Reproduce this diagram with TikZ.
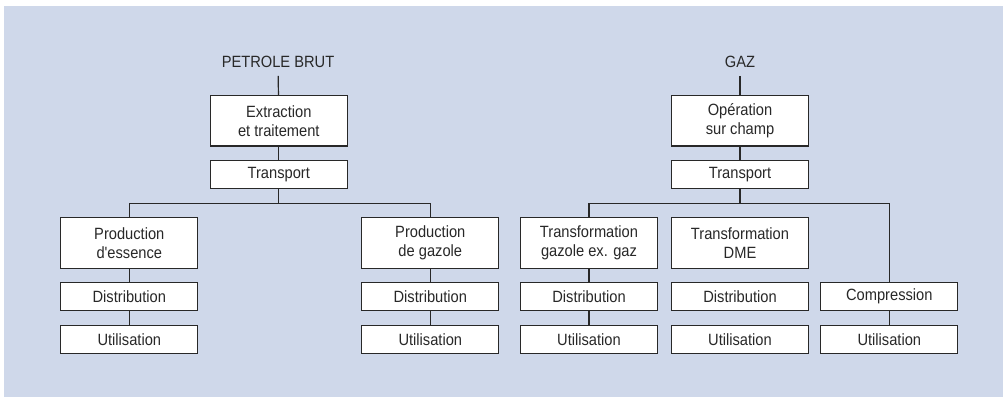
\documentclass[tikz,border=0pt]{standalone}
\usepackage{fontspec}
\setmainfont{Liberation Sans}[FakeStretch=0.9, Ligatures=TeXOff]
\definecolor{bgblue}{RGB}{207,216,234}
\definecolor{ink}{RGB}{40,40,40}
\begin{document}
\begin{tikzpicture}[x=1pt,y=-1pt,
  every node/.style={font=\fontsize{16.3}{19}\selectfont, text=ink},
  box/.style={draw=ink, line width=1.2pt, fill=white, minimum width=137pt, align=center, inner sep=0pt},
  tall/.style={box, minimum height=50.5pt},
  low/.style={box, minimum height=28.5pt},
  title/.style={inner sep=2pt, outer sep=6pt},
  link/.style={draw=ink, line width=1.2pt}]
\useasboundingbox (0,0) rectangle (1003,397);
\fill[bgblue] (4,6) rectangle (1003,397);

% ---- left tree
\node[title] (petrole) at (278,62) {PETROLE BRUT};
\node[tall] (ext) at (278.8,120.7) {Extraction\\et traitement};
\node[low] (tr1) at (278.8,174.5) {Transport};
\coordinate (b1) at (278.8,203.3);
\node[tall] (pe) at (129.3,243) {Production\\d'essence};
\node[low] (d1) at (129.3,296.5) {Distribution};
\node[low] (u1) at (129.3,339.5) {Utilisation};
\node[tall] (pg) at (430.3,243) {Production\\de gazole};
\node[low] (d2) at (430.3,296.5) {Distribution};
\node[low] (u2) at (430.3,339.5) {Utilisation};

% ---- right tree
\node[title] (gaz) at (740,62) {GAZ};
\node[tall] (op) at (740,120.7) {Opération\\sur champ};
\node[low] (tr2) at (740,174.5) {Transport};
\coordinate (b2) at (740,203.3);
\node[tall] (tg) at (589,243) {Transformation\\gazole ex. gaz};
\node[low] (d3) at (589,296.5) {Distribution};
\node[low] (u3) at (589,339.5) {Utilisation};
\node[tall] (dme) at (740,243) {Transformation\\DME};
\node[low] (d4) at (740,296.5) {Distribution};
\node[low] (u4) at (740,339.5) {Utilisation};
\node[low] (comp) at (889.3,296.5) {Compression};
\node[low] (u5) at (889.3,339.5) {Utilisation};

% ---- connectors
\path[link] (petrole) -- (ext);
\path[link] (ext) -- (tr1);
\path[link] (tr1) -- (b1);
\path[link] (pe.north) |- (b1) -| (pg.north);
\path[link] (pe) -- (d1);
\path[link] (d1) -- (u1);
\path[link] (pg) -- (d2);
\path[link] (d2) -- (u2);

\path[link] (gaz) -- (op);
\path[link] (op) -- (tr2);
\path[link] (tr2) -- (b2);
\path[link] (tg.north) |- (b2) -| (comp.north);
\path[link] (tg) -- (d3);
\path[link] (d3) -- (u3);
\path[link] (comp) -- (u5);
\end{tikzpicture}
\end{document}
